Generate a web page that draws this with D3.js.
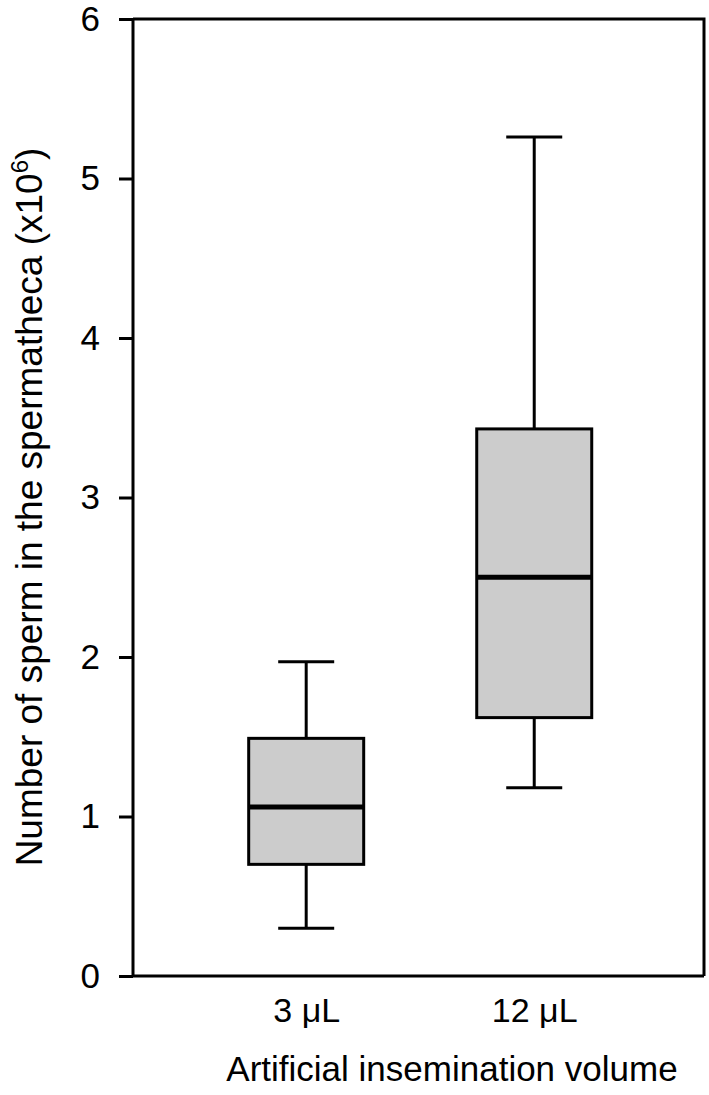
<!DOCTYPE html>
<html>
<head>
<meta charset="utf-8">
<script src="https://cdn.jsdelivr.net/npm/d3@7"></script>
<style>
  html, body { margin: 0; padding: 0; background: #fff; }
  text { font-family: "Liberation Sans", Arial, sans-serif; fill: #000; }
</style>
</head>
<body>
<svg id="chart" width="709" height="1095"></svg>
<script>
// ---- data ----
const categories = ["3 μL", "12 μL"];
const whiskerLow  = [0.30, 1.18];
const q1          = [0.70, 1.62];
const median      = [1.06, 2.50];
const q3          = [1.49, 3.43];
const whiskerHigh = [1.97, 5.26];
const yTicks = [0, 1, 2, 3, 4, 5, 6];

const boxes = categories.map((c, i) => ({
  cat: c, lo: whiskerLow[i], q1: q1[i], med: median[i], q3: q3[i], hi: whiskerHigh[i]
}));

// ---- layout ----
const svg = d3.select("#chart");
const plotL = 133, plotR = 704, plotT = 19, plotB = 976;

const y = d3.scaleLinear().domain([0, 6]).range([plotB, plotT]);
const x = d3.scalePoint().domain(categories).range([plotL, plotR]).padding(0.752).align(0.505);

const boxW = 115, capW = 56;

// frame (top & right)
svg.append("path")
  .attr("d", `M${plotL},${plotT}H${plotR}V${plotB}`)
  .attr("fill", "none").attr("stroke", "#000").attr("stroke-width", 3);

// y axis
const yAxis = svg.append("g")
  .attr("transform", `translate(${plotL},0)`)
  .call(d3.axisLeft(y).tickValues(yTicks).tickSize(14).tickPadding(19).tickFormat(d3.format("d")));
yAxis.select(".domain").attr("stroke-width", 3).attr("d", `M0,${plotB}V${plotT}`);
yAxis.selectAll(".tick line").attr("stroke-width", 3);
yAxis.selectAll(".tick text")
  .attr("font-size", 35)
  .attr("font-family", "Liberation Sans, Arial, sans-serif")
  .attr("fill", "#000");

// x axis
const xAxis = svg.append("g")
  .attr("transform", `translate(0,${plotB})`)
  .call(d3.axisBottom(x).tickSize(0).tickPadding(22));
xAxis.select(".domain").attr("stroke-width", 3).attr("d", `M${plotL},0H${plotR}`);
xAxis.selectAll(".tick text")
  .attr("font-size", 34)
  .attr("font-family", "Liberation Sans, Arial, sans-serif")
  .attr("fill", "#000");

// boxes
const g = svg.append("g");
const bx = g.selectAll("g.box").data(boxes).enter().append("g").attr("class", "box");

// whiskers
bx.append("line")
  .attr("x1", d => x(d.cat)).attr("x2", d => x(d.cat))
  .attr("y1", d => y(d.hi)).attr("y2", d => y(d.q3))
  .attr("stroke", "#000").attr("stroke-width", 3);
bx.append("line")
  .attr("x1", d => x(d.cat)).attr("x2", d => x(d.cat))
  .attr("y1", d => y(d.q1)).attr("y2", d => y(d.lo))
  .attr("stroke", "#000").attr("stroke-width", 3);
// caps
bx.append("line")
  .attr("x1", d => x(d.cat) - capW / 2).attr("x2", d => x(d.cat) + capW / 2)
  .attr("y1", d => y(d.hi)).attr("y2", d => y(d.hi))
  .attr("stroke", "#000").attr("stroke-width", 3);
bx.append("line")
  .attr("x1", d => x(d.cat) - capW / 2).attr("x2", d => x(d.cat) + capW / 2)
  .attr("y1", d => y(d.lo)).attr("y2", d => y(d.lo))
  .attr("stroke", "#000").attr("stroke-width", 3);
// box
bx.append("rect")
  .attr("x", d => x(d.cat) - boxW / 2).attr("width", boxW)
  .attr("y", d => y(d.q3)).attr("height", d => y(d.q1) - y(d.q3))
  .attr("fill", "#cccccc").attr("stroke", "#000").attr("stroke-width", 3);
// median
bx.append("line")
  .attr("x1", d => x(d.cat) - boxW / 2).attr("x2", d => x(d.cat) + boxW / 2)
  .attr("y1", d => y(d.med)).attr("y2", d => y(d.med))
  .attr("stroke", "#000").attr("stroke-width", 5);

// axis titles
svg.append("text")
  .attr("x", 452).attr("y", 1081)
  .attr("text-anchor", "middle").attr("font-size", 35)
  .text("Artificial insemination volume");

const yt = svg.append("text")
  .attr("transform", `translate(42,507) rotate(-90)`)
  .attr("text-anchor", "middle").attr("font-size", 37);
yt.append("tspan").text("Number of sperm in the spermatheca (x10");
yt.append("tspan").attr("font-size", 24).attr("dy", -14).text("6");
yt.append("tspan").attr("dy", 14).text(")");
</script>
</body>
</html>
